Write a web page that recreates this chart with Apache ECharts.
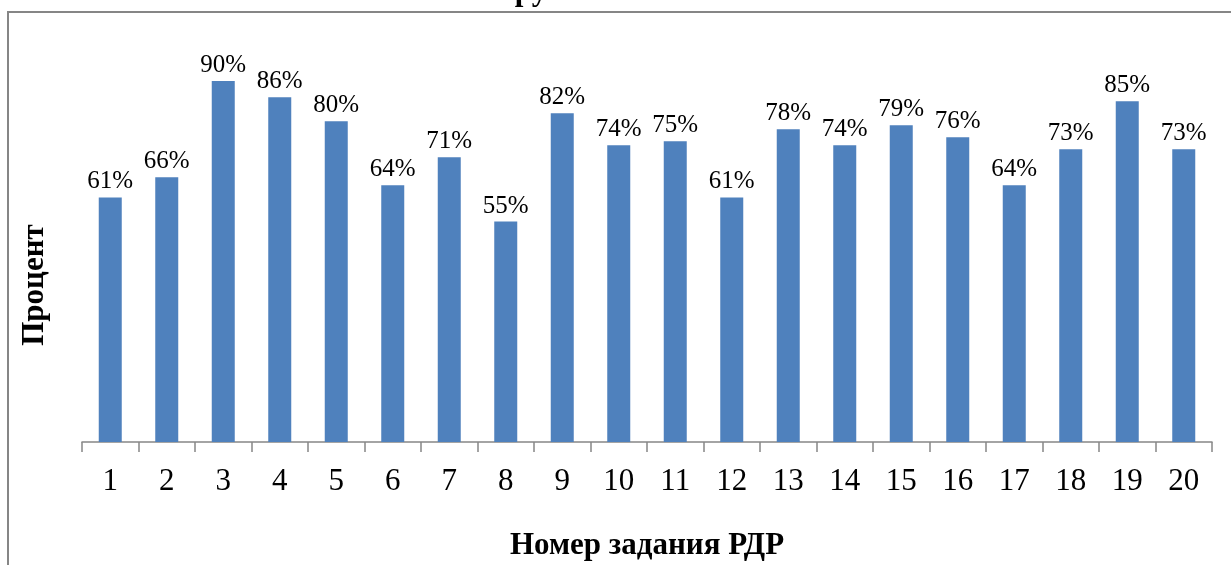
<!DOCTYPE html>
<html><head><meta charset="utf-8">
<script src="https://cdn.jsdelivr.net/npm/echarts@6/dist/echarts.min.js"></script>
<style>html,body{margin:0;padding:0;background:#fff}#c{width:1231px;height:565px}</style>
</head><body><div id="c"></div>
<script>
const categories = ['1','2','3','4','5','6','7','8','9','10','11','12','13','14','15','16','17','18','19','20'];
const values = [61,66,90,86,80,64,71,55,82,74,75,61,78,74,79,76,64,73,85,73];
const yAxisTitle = 'Процент';
const xAxisTitle = 'Номер задания РДР';
const titleFragment = 'ру';

const serif = '"Liberation Serif", "Times New Roman", serif';
const chart = echarts.init(document.getElementById('c'), null, {renderer:'canvas'});
chart.setOption({
  animation:false,
  backgroundColor:'#fff',
  grid:{left:82,right:19,top:41,bottom:123,containLabel:false},
  xAxis:{
    type:'category', data:categories,
    axisLine:{lineStyle:{color:'#868686',width:1.5}},
    axisTick:{show:true,length:10,lineStyle:{color:'#868686',width:1.5}},
    axisLabel:{color:'#000',fontFamily:serif,fontSize:31,margin:24}
  },
  yAxis:{
    type:'value', min:0, max:100,
    axisLine:{show:false}, axisTick:{show:false}, axisLabel:{show:false}, splitLine:{show:false}
  },
  series:[{
    type:'bar', data:values, barWidth:23,
    itemStyle:{color:'#4F81BD'},
    label:{show:true,position:'top',distance:3,formatter:'{c}%',fontFamily:serif,fontSize:25,color:'#000'}
  }],
  graphic:[
    {type:'rect',shape:{x:8,y:12,width:1240,height:600},style:{fill:'none',stroke:'#868686',lineWidth:2},silent:true},
    {type:'text',x:531,y:-8,style:{text:titleFragment,font:'bold 31px '+serif,fill:'#000',align:'center',verticalAlign:'middle'}},
    {type:'text',x:647,y:546,style:{text:xAxisTitle,font:'bold 31px '+serif,fill:'#000',align:'center',verticalAlign:'middle'}},
    {type:'text',x:35,y:285,rotation:Math.PI/2,style:{text:yAxisTitle,font:'bold 31px '+serif,fill:'#000',align:'center',verticalAlign:'middle'}}
  ]
});
</script></body></html>
